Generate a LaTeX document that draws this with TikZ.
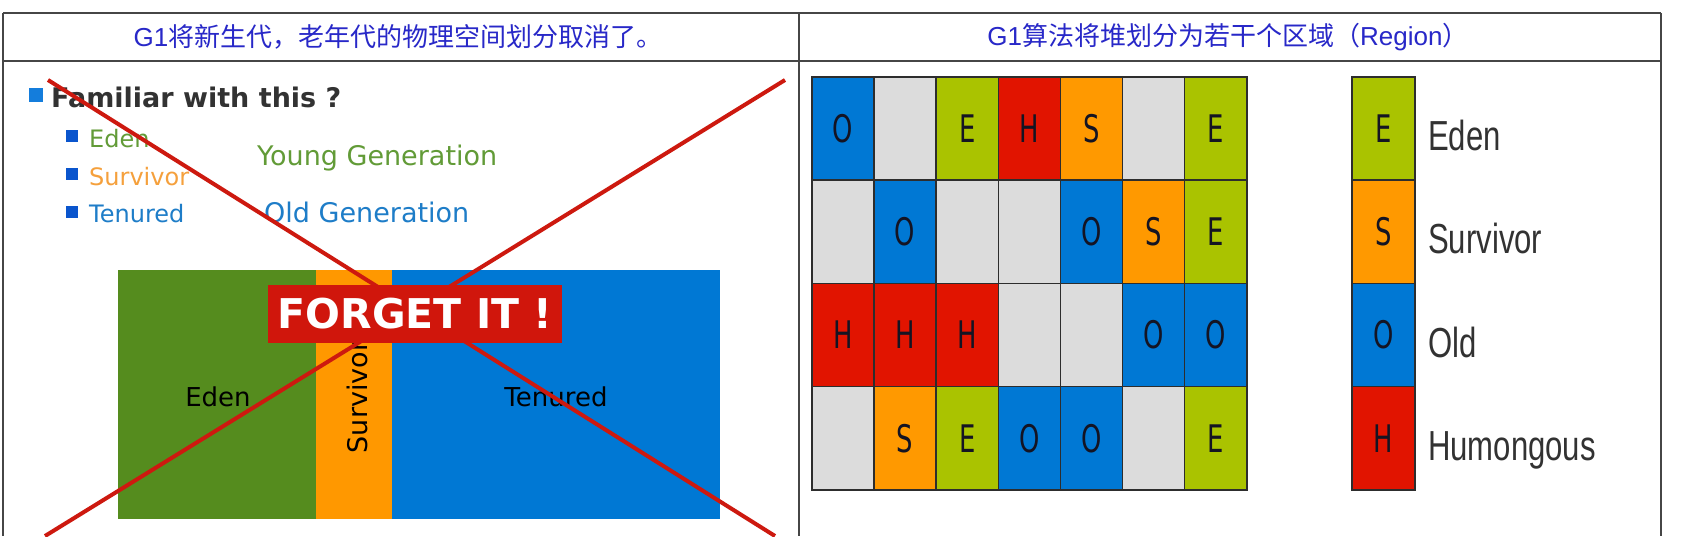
\documentclass[tikz,border=0pt]{standalone}
\usepackage{fontspec}
\setmainfont{DejaVu Sans}
\newfontfamily\cjk{Noto Sans CJK SC}
\newfontfamily\lat{Liberation Sans}
\newfontfamily\dvs{DejaVu Sans}
\newcommand\setfs[1]{\fontsize{#1}{#1}\selectfont}
\definecolor{tblline}{RGB}{70,70,70}
\definecolor{hdrblue}{RGB}{40,40,200}
\definecolor{txtdark}{RGB}{50,50,50}
\definecolor{bulA}{RGB}{20,125,220}
\definecolor{bulB}{RGB}{10,85,205}
\definecolor{tgreen}{RGB}{98,155,55}
\definecolor{torange}{RGB}{245,160,60}
\definecolor{tblue}{RGB}{30,125,200}
\definecolor{rgreen}{RGB}{85,140,30}
\definecolor{rorange}{RGB}{255,152,0}
\definecolor{rblue}{RGB}{0,120,212}
\definecolor{xred}{RGB}{205,25,15}
\definecolor{fred}{RGB}{208,22,12}
\definecolor{cO}{RGB}{0,120,212}
\definecolor{cE}{RGB}{170,195,0}
\definecolor{cH}{RGB}{225,20,0}
\definecolor{cS}{RGB}{255,153,0}
\definecolor{cN}{RGB}{220,220,220}
\definecolor{cellB}{RGB}{45,45,45}
\definecolor{ltr}{RGB}{20,20,35}
\begin{document}
\begin{tikzpicture}[x=1pt,y=-1pt,
  tbl/.style={draw=tblline, line width=1.6pt},
  hdr/.style={text=hdrblue, inner sep=0, font=\setfs{26}},
  bigbul/.style={fill=bulA, minimum size=14pt, inner sep=0},
  smallbul/.style={fill=bulB, minimum size=12pt, inner sep=0},
  subtxt/.style={anchor=base west, inner sep=0, font=\dvs\setfs{24}},
  gentxt/.style={anchor=base west, inner sep=0, font=\dvs\setfs{27}},
  block/.style={anchor=north west, inner sep=0, minimum height=249pt},
  blocklbl/.style={inner sep=0, font=\dvs\setfs{26}, text=black},
  cross/.style={draw=xred, line width=4pt},
  cell/.style={draw=cellB, line width=1.6pt, minimum width=62.1pt, minimum height=103.2pt, inner sep=0, text=ltr, font=\dvs\setfs{38}},
  cellO/.style={cell, fill=cO}, cellE/.style={cell, fill=cE},
  cellH/.style={cell, fill=cH}, cellS/.style={cell, fill=cS},
  cellN/.style={cell, fill=cN},
  legtxt/.style={anchor=base west, inner sep=0, text=txtdark, font=\lat\setfs{42}}
]
\useasboundingbox (0,0) rectangle (1681,536);
\fill[white] (0,0) rectangle (1681,536);

% table frame
\draw[tbl] (3,13) -- (1661,13);
\draw[tbl] (3,61) -- (1661,61);
\draw[tbl] (3,13) -- (3,536);
\draw[tbl] (799,13) -- (799,536);
\draw[tbl] (1661,13) -- (1661,536);

% headers
\node[hdr] (h1) at (398,37) {{\lat G1}{\cjk 将新生代，老年代的物理空间划分取消了。}};
\node[hdr] (h2) at (1228,37) {{\lat G1}{\cjk 算法将堆划分为若干个区域（}{\lat Region}{\cjk ）}};

% left panel text
\node[bigbul] (b0) at (36,95) {};
\node[anchor=base west, inner sep=0, text=txtdark, font=\dvs\bfseries\setfs{27}] (fam) at (51,107) {Familiar with this ?};
\node[smallbul] (b1) at (72,136) {};
\node[smallbul] (b2) at (72,174) {};
\node[smallbul] (b3) at (72,212) {};
\node[subtxt, text=tgreen] (t1) at (89,147) {Eden};
\node[subtxt, text=torange] (t2) at (89,185) {Survivor};
\node[subtxt, text=tblue] (t3) at (89,222) {Tenured};
\node[gentxt, text=tgreen] (yg) at (257,165) {Young Generation};
\node[gentxt, text=tblue] (og) at (264,222) {Old Generation};

% heap blocks
\node[block, fill=rgreen, minimum width=198pt] (eden) at (118,270) {};
\node[block, fill=rorange, minimum width=76pt] (surv) at (316,270) {};
\node[block, fill=rblue, minimum width=328pt] (ten) at (392,270) {};
\node[blocklbl] (edenl) at (218,397) {Eden};
\node[blocklbl] (tenl) at (556,397) {Tenured};
\node[blocklbl, rotate=90, font=\dvs\setfs{27}] (survl) at (357,397) {Survivor};

% cross
\coordinate (c1a) at (48,80);
\coordinate (c1b) at (775,536);
\coordinate (c2a) at (785,80);
\coordinate (c2b) at (45,536);
\draw[cross] (c1a) -- (c1b);
\draw[cross] (c2a) -- (c2b);

\node[fill=fred, minimum width=294pt, minimum height=58pt, inner sep=0, text=white, font=\dvs\bfseries\setfs{41}] (forget) at (415,314) {FORGET IT !};

% region grid
\def\nn{N}
\foreach \k/\c/\r in {O/0/0, N/1/0, E/2/0, H/3/0, S/4/0, N/5/0, E/6/0,
                      N/0/1, O/1/1, N/2/1, N/3/1, O/4/1, S/5/1, E/6/1,
                      H/0/2, H/1/2, H/2/2, N/3/2, N/4/2, O/5/2, O/6/2,
                      N/0/3, S/1/3, E/2/3, O/3/3, O/4/3, N/5/3, E/6/3}
  \node[cell\k] (g\r\c) at ({812+62.1*(\c+0.5)}, {77+103.2*(\r+0.5)}) {\ifx\k\nn\else\raisebox{-4pt}{\scalebox{0.68}[1]{\k}}\fi};

% legend
\foreach \k/\r/\name/\bl in {E/0/Eden/150, S/1/Survivor/253, O/2/Old/357, H/3/Humongous/460} {
  \node[cell\k, minimum width=63pt] (l\k) at (1383.5, {77+103.2*(\r+0.5)}) {\raisebox{-4pt}{\scalebox{0.68}[1]{\k}}};
  \node[legtxt] (lt\k) at (1428,\bl) {\scalebox{0.74}[1]{\name}};
}
\end{tikzpicture}
\end{document}
